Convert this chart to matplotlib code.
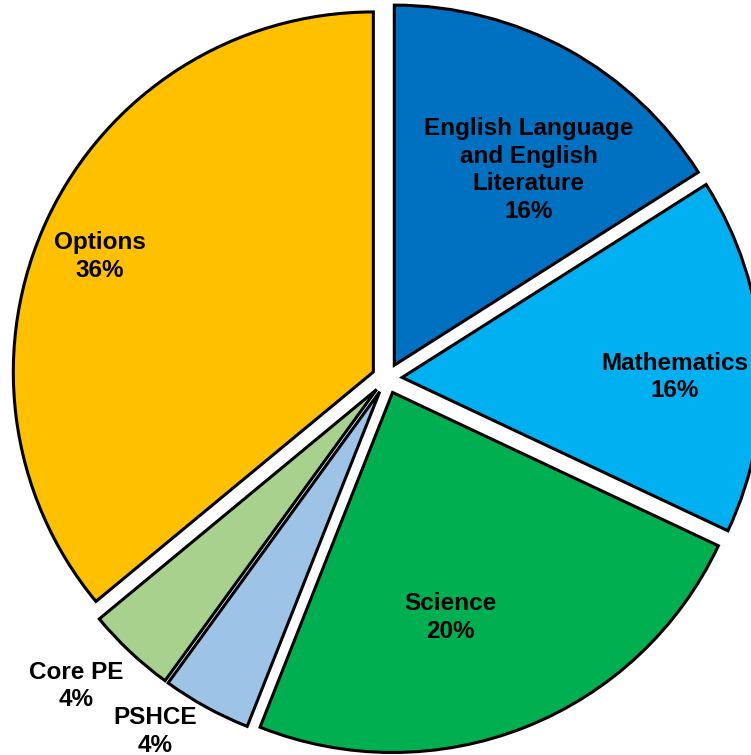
import numpy as np
import matplotlib.pyplot as plt

# lesson time split (periods per fortnight), drawn clockwise from 12 o'clock
subjects = ['English Language\nand English\nLiterature', 'Mathematics', 'Science',
            'PSHCE', 'Core PE', 'Options']
periods = [4, 4, 6, 1, 1, 9]
pct_labels = ['16%', '16%', '20%', '4%', '4%', '36%']
colors = ['#0070C0', '#00B0F0', '#00B050', '#9DC3E6', '#A9D18E', '#FFC000']

# label placement (radius as fraction of pie radius, angle in degrees)
label_r = [0.70, 0.80, 0.687, 1.173, 1.215, 0.866]
label_ang = [55.8, 0.3, -75.2, -123.3, -135.3, 157.0]

plt.rcParams['font.family'] = ['Liberation Sans', 'DejaVu Sans']

fig = plt.figure(figsize=(7.51, 7.55), dpi=100)
ax = fig.add_axes([0, 0, 1, 1])

wedges, _ = ax.pie(periods, colors=colors, startangle=90, counterclock=False,
                   explode=[0.042] * len(periods),
                   wedgeprops=dict(edgecolor='black', linewidth=2.2))

for name, pct, r, a in zip(subjects, pct_labels, label_r, label_ang):
    x = r * np.cos(np.radians(a))
    y = r * np.sin(np.radians(a))
    ax.text(x, y, name + '\n' + pct, ha='center', va='center',
            multialignment='center', fontsize=17.5, fontweight='bold',
            linespacing=1.25, color='black')

ax.set_xlim(-1.075, 1.011)
ax.set_ylim(-1.046, 1.051)
ax.axis('off')

plt.savefig('out.png', dpi=100)
